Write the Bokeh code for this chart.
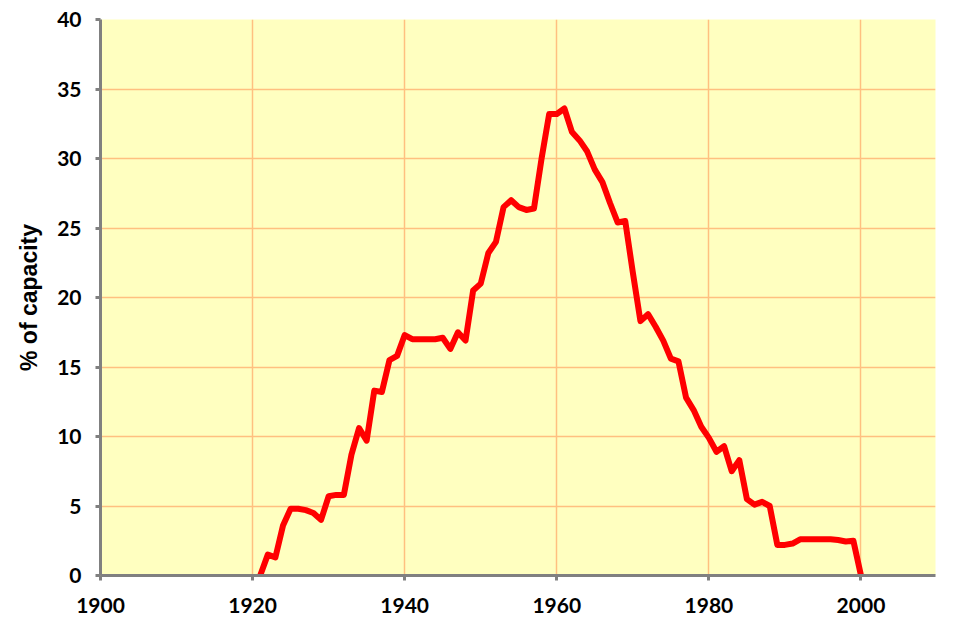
from bokeh.plotting import figure
from bokeh.models import ColumnDataSource, Range1d, FixedTicker, Label
from bokeh.embed import file_html
from bokeh.resources import INLINE

years = list(range(1921, 2001))
values = [0.0, 1.5, 1.3, 3.6, 4.8, 4.8, 4.7, 4.5, 4.0, 5.7,
          5.8, 5.8, 8.7, 10.6, 9.7, 13.3, 13.2, 15.5, 15.8, 17.3,
          17.0, 17.0, 17.0, 17.0, 17.1, 16.3, 17.5, 16.9, 20.5, 21.0,
          23.2, 24.0, 26.5, 27.0, 26.5, 26.3, 26.4, 30.0, 33.2, 33.2,
          33.6, 31.9, 31.3, 30.5, 29.2, 28.3, 26.8, 25.4, 25.5, 21.8,
          18.3, 18.8, 17.9, 16.9, 15.6, 15.4, 12.8, 11.9, 10.7, 9.9,
          8.9, 9.3, 7.5, 8.3, 5.5, 5.1, 5.3, 5.0, 2.2, 2.2,
          2.3, 2.6, 2.6, 2.6, 2.6, 2.6, 2.55, 2.45, 2.5, 0.0]
x_ticks = [1900, 1920, 1940, 1960, 1980, 2000]
y_ticks = [0, 5, 10, 15, 20, 25, 30, 35, 40]
y_label = "% of capacity"
credit = "\u00a9Dylan Moore 2019"

src = ColumnDataSource(dict(year=years, value=values))

p = figure(width=965, height=637, output_backend="svg", toolbar_location=None,
           x_range=Range1d(1900, 2009.8), y_range=Range1d(0, 40),
           min_border_left=100, min_border_top=19, min_border_right=30,
           min_border_bottom=62)
p.frame_width = 835
p.frame_height = 556

p.background_fill_color = "#FFFFC0"
p.border_fill_color = "white"
p.outline_line_color = None

p.line("year", "value", source=src, line_color="#FF0000", line_width=6,
       line_join="round")

font = "Lato"
for ax in (p.xaxis[0], p.yaxis[0]):
    ax.axis_line_color = "#808080"
    ax.axis_line_width = 3
    ax.major_tick_line_color = "#808080"
    ax.major_tick_line_width = 3
    ax.major_tick_out = 5
    ax.major_tick_in = 0
    ax.minor_tick_line_color = None
    ax.major_label_text_font = font
    ax.major_label_text_font_style = "bold"
    ax.major_label_text_font_size = "21px"
    ax.major_label_text_color = "black"

p.xaxis.ticker = FixedTicker(ticks=x_ticks)
p.yaxis.ticker = FixedTicker(ticks=y_ticks)
p.xaxis.major_label_standoff = 17
p.yaxis.major_label_standoff = 14

p.yaxis.axis_label = y_label
p.yaxis.axis_label_text_font = "Liberation Sans"
p.yaxis.axis_label_text_font_style = "bold"
p.yaxis.axis_label_text_font_size = "23px"
p.yaxis.axis_label_text_color = "black"
p.yaxis.axis_label_standoff = 12

p.xgrid.ticker = FixedTicker(ticks=x_ticks)
p.ygrid.ticker = FixedTicker(ticks=y_ticks)
p.xgrid.grid_line_color = "#FFC080"
p.ygrid.grid_line_color = "#FFC080"
p.xgrid.grid_line_width = 1.5
p.ygrid.grid_line_width = 1.5

p.add_layout(Label(x=1900, y=0, x_offset=-98, y_offset=-62, text=credit,
                   text_font=font, text_font_size="11px", text_font_style="bold",
                   text_color="#DADADA", text_baseline="bottom"))

open("out.html", "w").write(file_html(p, INLINE))
